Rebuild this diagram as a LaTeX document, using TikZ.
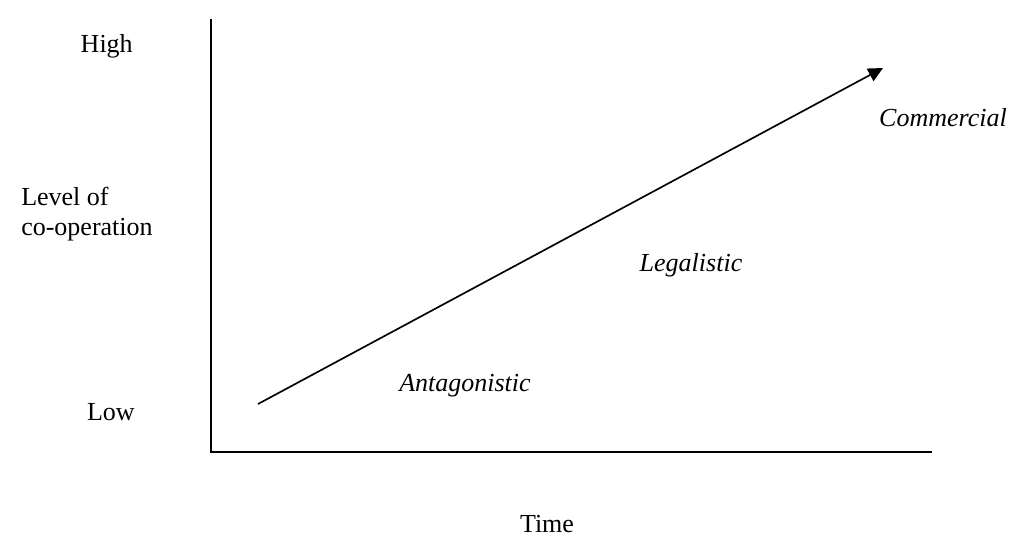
\documentclass[tikz,border=0pt]{standalone}
\usepackage{fontspec}
\setmainfont{Liberation Serif}
\usetikzlibrary{arrows.meta}
\begin{document}
\begin{tikzpicture}[x=0.75pt,y=-0.75pt,
  lbl/.style={font=\fontsize{19.5}{23}\selectfont, inner sep=0pt},
  itl/.style={font=\fontsize{19.5}{23}\selectfont\itshape, inner sep=0pt},
  axis/.style={line width=1.5pt},
  trend/.style={line width=1.25pt, -{Triangle[length=11pt,width=10.5pt]}}]
\useasboundingbox (0,0) rectangle (1012,536);
\coordinate (top) at (211,19);
\coordinate (origin) at (211,452);
\coordinate (xend) at (932,452);
\draw[axis] (top) -- (origin) -- (xend);
\coordinate (s) at (258,404);
\coordinate (e) at (883,68);
\draw[trend] (s) -- (e);
\node[lbl, anchor=base east] (high) at (133,52) {High};
\node[lbl, anchor=base west] (lev1) at (21,205) {Level of};
\node[lbl, anchor=base west] (lev2) at (21,235) {co-operation};
\node[lbl, anchor=base east] (low) at (135,420) {Low};
\node[lbl, anchor=base] (time) at (547,532) {Time};
\node[itl, anchor=base] (ant) at (465,391) {Antagonistic};
\node[itl, anchor=base] (leg) at (691,271) {Legalistic};
\node[itl, anchor=base] (com) at (943,126) {Commercial};
\end{tikzpicture}
\end{document}
